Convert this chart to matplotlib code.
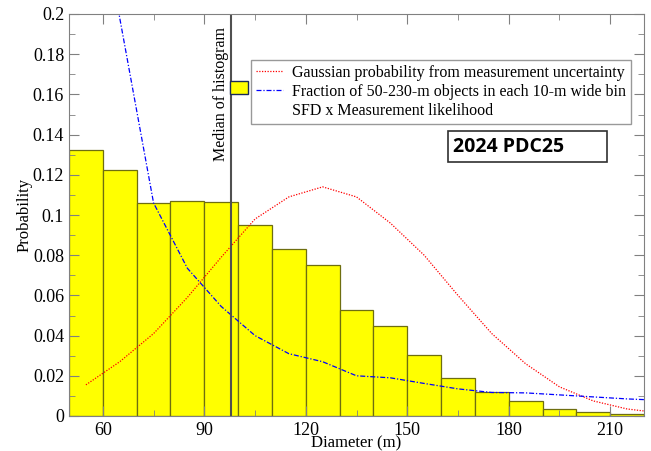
import matplotlib
matplotlib.use("Agg")
import matplotlib.pyplot as plt
from matplotlib.lines import Line2D
from matplotlib.patches import Rectangle
from matplotlib.ticker import MultipleLocator, FuncFormatter

plt.rcParams['font.family'] = ['Liberation Serif', 'DejaVu Serif']

# Histogram (10-m bins)
bin_edges = [50, 60, 70, 80, 90, 100, 110, 120, 130, 140, 150, 160, 170, 180, 190, 200, 210, 220]
hist_vals = [0.1325, 0.1225, 0.106, 0.107, 0.1065, 0.095, 0.083, 0.075, 0.0525, 0.045,
             0.0305, 0.019, 0.0117, 0.0073, 0.0037, 0.0018, 0.001]

# Gaussian probability from measurement uncertainty
gauss_x = [55, 65, 75, 85, 95, 105, 115, 125, 135, 145, 155, 165, 175, 185, 195, 205, 215, 225]
gauss_y = [0.0155, 0.027, 0.041, 0.059, 0.079, 0.098, 0.109, 0.114, 0.109, 0.096, 0.080,
           0.060, 0.041, 0.026, 0.0145, 0.0075, 0.0035, 0.0015]

# Fraction of 50-230-m objects in each bin
frac_x = [55, 65, 75, 85, 95, 105, 115, 125, 135, 145, 155, 165, 175, 185, 195, 205, 215, 225]
frac_y = [0.30, 0.198, 0.106, 0.0735, 0.0545, 0.040, 0.031, 0.027, 0.020, 0.019, 0.0162,
          0.0135, 0.0117, 0.0115, 0.0105, 0.0095, 0.0085, 0.0078]

median_x = 98.0

fig = plt.figure(figsize=(6.51, 4.51), dpi=100)
ax = fig.add_axes([69/651, 35/451, 575/651, 402/451])

widths = [bin_edges[i+1] - bin_edges[i] for i in range(len(hist_vals))]
ax.bar(bin_edges[:-1], hist_vals, width=widths, align='edge', color='#ffff00',
       edgecolor='#6e6e10', linewidth=0.9, zorder=1)

ax.plot(gauss_x, gauss_y, color='red', linestyle=(0, (1, 1.2)), linewidth=0.9, zorder=3)
ax.plot(frac_x, frac_y, color='blue', linestyle=(0, (4, 1.5, 1, 1.5)), linewidth=0.9, zorder=3)

ax.axvline(median_x, color='#505050', linewidth=1.5, zorder=4)
ax.text(median_x - 3.2, 0.1935, 'Median of histogram', rotation=90, ha='center', va='top',
        fontsize=11.5)

ax.set_xlim(50, 220)
ax.set_ylim(0, 0.2)
ax.xaxis.set_major_locator(MultipleLocator(30))
ax.xaxis.set_minor_locator(MultipleLocator(15))
ax.yaxis.set_major_locator(MultipleLocator(0.02))
ax.yaxis.set_minor_locator(MultipleLocator(0.01))
ax.yaxis.set_major_formatter(FuncFormatter(lambda v, p: '%g' % round(v, 4)))
ax.tick_params(which='both', direction='in', top=True, right=True, color='#808080',
               labelsize=13)
ax.tick_params(which='major', length=7)
ax.tick_params(which='minor', length=4)
ax.tick_params(axis='x', pad=4)
for s in ax.spines.values():
    s.set_color('#808080')
    s.set_zorder(5)

ax.set_xlabel('Diameter (m)', fontsize=12, labelpad=-2)
ax.set_ylabel('Probability', fontsize=12, labelpad=0)

handles = [Line2D([], [], color='red', linestyle=(0, (1, 1.2)), linewidth=0.9),
           Line2D([], [], color='blue', linestyle=(0, (4, 1.5, 1, 1.5)), linewidth=0.9),
           Line2D([], [], color='none')]
labels = ['Gaussian probability from measurement uncertainty',
          'Fraction of 50-230-m objects in each 10-m wide bin',
          'SFD x Measurement likelihood']
leg = ax.legend(handles, labels, loc='upper left', bbox_to_anchor=(182/575, 1 - 46/402),
                fontsize=11.5, frameon=True, fancybox=False, edgecolor='#808080',
                borderpad=0.3, labelspacing=0.2, handlelength=1.7, handletextpad=0.55,
                borderaxespad=0)
leg.get_frame().set_linewidth(1.0)

ax.add_patch(Rectangle((161/575, 1 - 80/402), 18/575, 13/402, transform=ax.transAxes,
                       facecolor='#ffff00', edgecolor='#1a2a5a', linewidth=1.0, zorder=6,
                       clip_on=False))

ax.add_patch(Rectangle((379/575, (416 - 162)/402), 159/575, 31/402, transform=ax.transAxes,
                       facecolor='white', edgecolor='#303030', linewidth=1.2, zorder=6))
ax.text((453 - 69)/575, (416 - 147)/402, '2024 PDC25', transform=ax.transAxes, fontsize=14,
        fontweight='bold', family=['Open Sans', 'DejaVu Sans'], va='center', ha='left',
        zorder=7)

fig.savefig('out.png', dpi=100)
